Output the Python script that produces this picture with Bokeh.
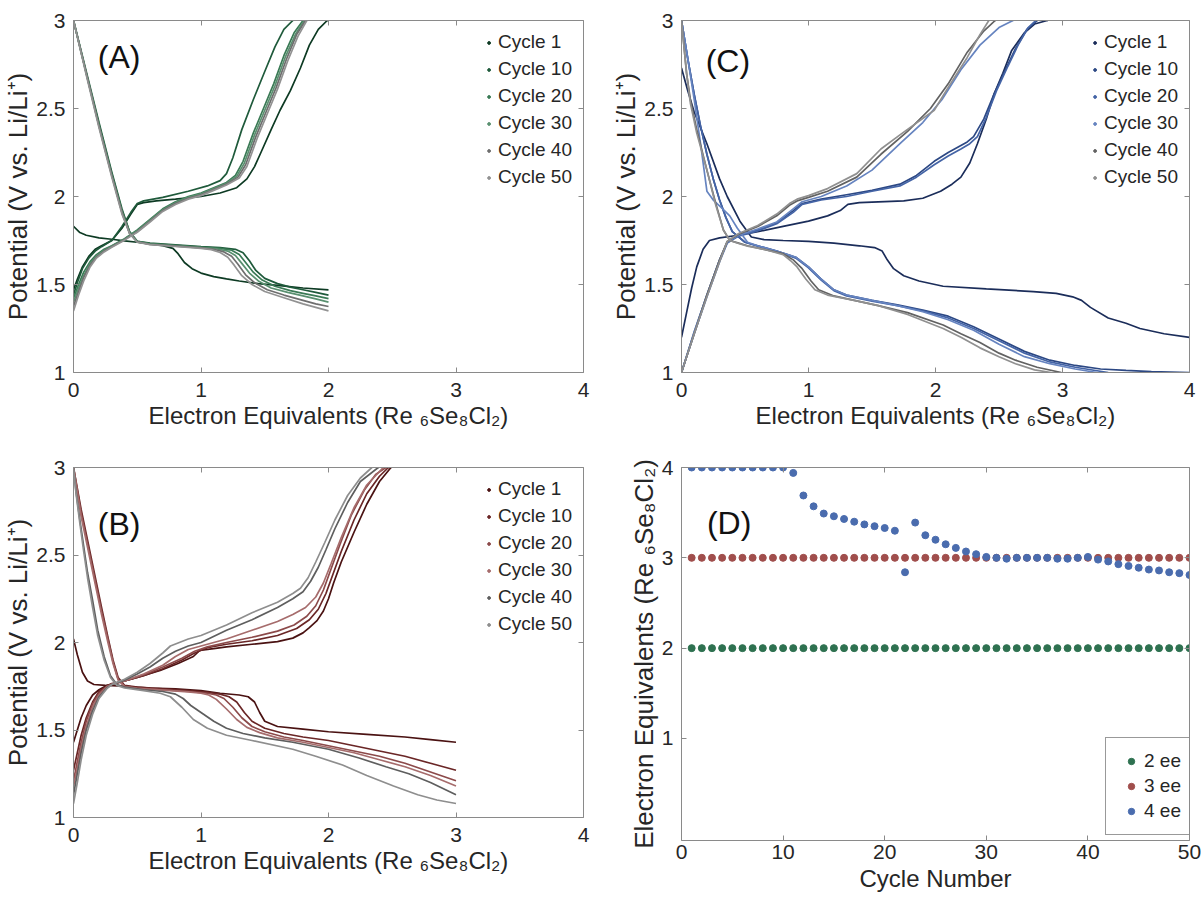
from bokeh.plotting import figure
from bokeh.models import LinearAxis, FixedTicker, Range1d, Legend, LegendItem, Label
from bokeh.layouts import row, column
from bokeh.embed import file_html
from bokeh.resources import INLINE

# ---------------- data ----------------
CYCLE_LABELS = ["Cycle 1", "Cycle 10", "Cycle 20", "Cycle 30", "Cycle 40", "Cycle 50"]

# Panel A (2 ee)
A_DIS_X_1 = [0, 0.05, 0.1, 0.2, 0.3, 0.4, 0.5, 0.6, 0.7, 0.78, 0.82, 0.87, 0.93, 1.0, 1.1, 1.2, 1.3, 1.45, 1.6, 1.8, 2.0]
A_DIS_Y_1 = [1.83, 1.795, 1.78, 1.765, 1.757, 1.748, 1.74, 1.73, 1.72, 1.705, 1.675, 1.625, 1.59, 1.565, 1.545, 1.532, 1.52, 1.505, 1.495, 1.48, 1.47]
A_DIS_X_10 = [0, 0.1, 0.2, 0.3, 0.38, 0.44, 0.5, 0.6, 0.8, 1.0, 1.15, 1.27, 1.33, 1.38, 1.43, 1.5, 1.6, 1.7, 1.8, 1.9, 2.0]
A_DIS_Y_10 = [3.0, 2.71, 2.42, 2.14, 1.93, 1.8, 1.745, 1.735, 1.725, 1.715, 1.71, 1.70, 1.68, 1.635, 1.58, 1.535, 1.505, 1.485, 1.47, 1.455, 1.44]
A_DIS_X_20 = [0, 0.1, 0.2, 0.3, 0.38, 0.44, 0.5, 0.6, 0.8, 1.0, 1.15, 1.24, 1.3, 1.35, 1.41, 1.48, 1.58, 1.7, 1.8, 1.9, 2.0]
A_DIS_Y_20 = [3.0, 2.7, 2.41, 2.13, 1.92, 1.8, 1.745, 1.732, 1.722, 1.712, 1.705, 1.695, 1.67, 1.625, 1.57, 1.525, 1.49, 1.465, 1.45, 1.435, 1.42]
A_DIS_X_30 = [0, 0.1, 0.2, 0.3, 0.38, 0.44, 0.5, 0.6, 0.8, 1.0, 1.12, 1.21, 1.27, 1.32, 1.38, 1.45, 1.55, 1.68, 1.8, 1.9, 2.0]
A_DIS_Y_30 = [3.0, 2.7, 2.4, 2.12, 1.91, 1.79, 1.742, 1.73, 1.72, 1.71, 1.703, 1.69, 1.665, 1.62, 1.565, 1.52, 1.48, 1.455, 1.435, 1.418, 1.40]
A_DIS_X_40 = [0, 0.1, 0.2, 0.3, 0.38, 0.44, 0.5, 0.6, 0.8, 1.0, 1.1, 1.18, 1.24, 1.29, 1.35, 1.42, 1.52, 1.65, 1.8, 1.9, 2.0]
A_DIS_Y_40 = [3.0, 2.7, 2.4, 2.12, 1.91, 1.79, 1.742, 1.728, 1.718, 1.708, 1.7, 1.685, 1.66, 1.615, 1.555, 1.51, 1.47, 1.44, 1.41, 1.39, 1.375]
A_DIS_X_50 = [0, 0.1, 0.2, 0.3, 0.38, 0.44, 0.5, 0.6, 0.8, 1.0, 1.08, 1.15, 1.21, 1.26, 1.32, 1.4, 1.5, 1.65, 1.8, 1.9, 2.0]
A_DIS_Y_50 = [3.0, 2.69, 2.39, 2.11, 1.9, 1.79, 1.74, 1.727, 1.716, 1.705, 1.698, 1.682, 1.655, 1.61, 1.55, 1.5, 1.46, 1.425, 1.39, 1.37, 1.35]

A_CHG_X_1 = [0, 0.03, 0.07, 0.12, 0.17, 0.22, 0.3, 0.38, 0.45, 0.5, 0.55, 0.65, 0.8, 1.0, 1.15, 1.28, 1.36, 1.42, 1.47, 1.55, 1.62, 1.7, 1.78, 1.85, 1.92, 1.99]
A_CHG_Y_1 = [1.47, 1.53, 1.6, 1.66, 1.7, 1.72, 1.75, 1.82, 1.9, 1.955, 1.965, 1.975, 1.985, 2.0, 2.02, 2.05, 2.1, 2.17, 2.25, 2.38, 2.49, 2.6, 2.73, 2.86, 2.95, 3.0]
A_CHG_X_10 = [0, 0.03, 0.07, 0.12, 0.17, 0.22, 0.3, 0.38, 0.45, 0.5, 0.55, 0.7, 0.9, 1.05, 1.15, 1.2, 1.25, 1.32, 1.41, 1.5, 1.58, 1.65, 1.72]
A_CHG_Y_10 = [1.44, 1.51, 1.59, 1.65, 1.69, 1.715, 1.75, 1.83, 1.91, 1.96, 1.975, 1.995, 2.03, 2.06, 2.09, 2.13, 2.22, 2.38, 2.55, 2.71, 2.85, 2.95, 3.0]
A_CHG_X_20 = [0, 0.04, 0.08, 0.13, 0.18, 0.24, 0.3, 0.4, 0.5, 0.6, 0.7, 0.8, 0.9, 1.0, 1.1, 1.2, 1.27, 1.33, 1.41, 1.49, 1.57, 1.65, 1.73, 1.8]
A_CHG_Y_20 = [1.42, 1.5, 1.57, 1.63, 1.67, 1.7, 1.72, 1.76, 1.81, 1.87, 1.93, 1.97, 2.0, 2.02, 2.05, 2.08, 2.12, 2.2, 2.36, 2.5, 2.64, 2.8, 2.93, 3.0]
A_CHG_X_30 = [0, 0.04, 0.08, 0.13, 0.18, 0.24, 0.3, 0.4, 0.5, 0.6, 0.7, 0.8, 0.9, 1.0, 1.1, 1.2, 1.28, 1.34, 1.42, 1.5, 1.58, 1.66, 1.74, 1.81]
A_CHG_Y_30 = [1.40, 1.48, 1.55, 1.62, 1.66, 1.695, 1.717, 1.757, 1.805, 1.865, 1.925, 1.965, 1.995, 2.015, 2.045, 2.075, 2.115, 2.19, 2.35, 2.49, 2.63, 2.79, 2.92, 3.0]
A_CHG_X_40 = [0, 0.04, 0.08, 0.13, 0.18, 0.24, 0.3, 0.4, 0.5, 0.6, 0.7, 0.8, 0.9, 1.0, 1.1, 1.2, 1.29, 1.35, 1.43, 1.51, 1.59, 1.67, 1.75, 1.82]
A_CHG_Y_40 = [1.375, 1.46, 1.54, 1.61, 1.655, 1.69, 1.715, 1.755, 1.8, 1.86, 1.92, 1.96, 1.99, 2.01, 2.04, 2.07, 2.11, 2.18, 2.34, 2.48, 2.62, 2.78, 2.92, 3.0]
A_CHG_X_50 = [0, 0.04, 0.08, 0.13, 0.18, 0.24, 0.3, 0.4, 0.5, 0.6, 0.7, 0.8, 0.9, 1.0, 1.1, 1.2, 1.3, 1.36, 1.44, 1.52, 1.6, 1.68, 1.76, 1.83]
A_CHG_Y_50 = [1.35, 1.44, 1.52, 1.6, 1.65, 1.685, 1.712, 1.752, 1.797, 1.855, 1.915, 1.955, 1.985, 2.005, 2.035, 2.065, 2.105, 2.17, 2.33, 2.47, 2.61, 2.77, 2.91, 3.0]

# Panel B (3 ee)
B_DIS_X_1 = [0, 0.03, 0.07, 0.11, 0.16, 0.25, 0.4, 0.6, 0.8, 1.0, 1.15, 1.3, 1.37, 1.42, 1.46, 1.5, 1.6, 1.8, 2.0, 2.3, 2.6, 2.8, 3.0]
B_DIS_Y_1 = [2.02, 1.93, 1.83, 1.78, 1.76, 1.755, 1.75, 1.74, 1.735, 1.725, 1.71, 1.7, 1.69, 1.66, 1.6, 1.55, 1.52, 1.505, 1.49, 1.475, 1.46, 1.445, 1.43]
B_DIS_X_10 = [0, 0.03, 0.06, 0.1, 0.14, 0.18, 0.22, 0.27, 0.31, 0.35, 0.4, 0.5, 0.7, 0.9, 1.05, 1.15, 1.22, 1.28, 1.34, 1.4, 1.5, 1.65, 1.8, 2.0, 2.2, 2.4, 2.6, 2.8, 3.0]
B_DIS_Y_10 = [3.0, 2.88, 2.76, 2.62, 2.48, 2.34, 2.2, 2.03, 1.9, 1.8, 1.755, 1.745, 1.735, 1.725, 1.715, 1.705, 1.69, 1.66, 1.6, 1.55, 1.51, 1.48, 1.46, 1.44, 1.41, 1.38, 1.35, 1.31, 1.27]
B_DIS_X_20 = [0, 0.03, 0.06, 0.1, 0.14, 0.18, 0.22, 0.27, 0.31, 0.35, 0.4, 0.5, 0.7, 0.9, 1.05, 1.12, 1.18, 1.25, 1.32, 1.4, 1.5, 1.65, 1.8, 2.0, 2.2, 2.4, 2.6, 2.8, 3.0]
B_DIS_Y_20 = [3.0, 2.87, 2.74, 2.6, 2.46, 2.32, 2.18, 2.02, 1.89, 1.79, 1.75, 1.74, 1.73, 1.72, 1.71, 1.7, 1.68, 1.63, 1.57, 1.52, 1.49, 1.46, 1.44, 1.41, 1.38, 1.35, 1.31, 1.26, 1.21]
B_DIS_X_30 = [0, 0.03, 0.06, 0.1, 0.14, 0.18, 0.22, 0.27, 0.31, 0.35, 0.4, 0.5, 0.7, 0.9, 1.0, 1.06, 1.12, 1.2, 1.28, 1.36, 1.46, 1.6, 1.8, 2.0, 2.2, 2.4, 2.6, 2.8, 3.0]
B_DIS_Y_30 = [3.0, 2.86, 2.72, 2.58, 2.44, 2.3, 2.16, 2.0, 1.88, 1.785, 1.748, 1.738, 1.728, 1.718, 1.71, 1.7, 1.675, 1.62, 1.56, 1.515, 1.485, 1.455, 1.43, 1.4, 1.37, 1.33, 1.29, 1.24, 1.18]
B_DIS_X_40 = [0, 0.02, 0.05, 0.08, 0.11, 0.15, 0.19, 0.24, 0.29, 0.34, 0.4, 0.55, 0.7, 0.8, 0.86, 0.92, 1.0, 1.1, 1.2, 1.33, 1.5, 1.72, 2.0, 2.24, 2.45, 2.63, 2.8, 3.0]
B_DIS_Y_40 = [3.0, 2.86, 2.7, 2.55, 2.4, 2.24, 2.07, 1.92, 1.81, 1.76, 1.745, 1.73, 1.72, 1.705, 1.68, 1.64, 1.6, 1.55, 1.51, 1.48, 1.455, 1.43, 1.39, 1.34, 1.29, 1.25, 1.2, 1.13]
B_DIS_X_50 = [0, 0.02, 0.05, 0.08, 0.11, 0.15, 0.19, 0.24, 0.29, 0.34, 0.4, 0.55, 0.68, 0.76, 0.85, 0.94, 1.05, 1.2, 1.4, 1.72, 1.9, 2.11, 2.3, 2.51, 2.7, 2.85, 3.0]
B_DIS_Y_50 = [3.0, 2.85, 2.68, 2.52, 2.37, 2.2, 2.04, 1.9, 1.8, 1.755, 1.74, 1.725, 1.71, 1.69, 1.63, 1.56, 1.51, 1.47, 1.44, 1.39, 1.35, 1.3, 1.24, 1.18, 1.13, 1.1, 1.08]

B_CHG_X_1 = [0, 0.03, 0.06, 0.1, 0.15, 0.2, 0.26, 0.35, 0.5, 0.68, 0.82, 0.94, 0.99, 1.1, 1.2, 1.4, 1.6, 1.72, 1.8, 1.85, 1.91, 1.96, 2.0, 2.04, 2.1, 2.2, 2.3, 2.4, 2.49]
B_CHG_Y_1 = [1.43, 1.5, 1.57, 1.64, 1.7, 1.73, 1.755, 1.77, 1.8, 1.84, 1.88, 1.92, 1.955, 1.965, 1.975, 1.99, 2.005, 2.025, 2.055, 2.085, 2.125, 2.18, 2.25, 2.34, 2.46, 2.63, 2.79, 2.92, 3.0]
B_CHG_X_10 = [0, 0.03, 0.06, 0.1, 0.15, 0.2, 0.26, 0.3, 0.4, 0.55, 0.7, 0.85, 0.95, 1.05, 1.2, 1.4, 1.6, 1.75, 1.85, 1.92, 1.98, 2.04, 2.1, 2.2, 2.3, 2.4, 2.47]
B_CHG_Y_10 = [1.27, 1.37, 1.47, 1.57, 1.66, 1.72, 1.75, 1.765, 1.78, 1.81, 1.85, 1.9, 1.94, 1.97, 1.99, 2.01, 2.04, 2.08, 2.13, 2.19, 2.28, 2.4, 2.52, 2.7, 2.85, 2.95, 3.0]
B_CHG_X_20 = [0, 0.03, 0.06, 0.1, 0.15, 0.2, 0.26, 0.3, 0.4, 0.55, 0.7, 0.85, 0.95, 1.05, 1.2, 1.4, 1.6, 1.73, 1.83, 1.9, 1.96, 2.02, 2.09, 2.18, 2.28, 2.37, 2.45]
B_CHG_Y_20 = [1.21, 1.32, 1.43, 1.55, 1.65, 1.71, 1.748, 1.763, 1.78, 1.815, 1.86, 1.91, 1.95, 1.975, 2.0, 2.03, 2.065, 2.1, 2.15, 2.21, 2.3, 2.42, 2.56, 2.73, 2.87, 2.96, 3.0]
B_CHG_X_30 = [0, 0.03, 0.06, 0.1, 0.15, 0.2, 0.26, 0.3, 0.4, 0.55, 0.7, 0.8, 0.9, 1.0, 1.2, 1.4, 1.6, 1.72, 1.82, 1.9, 1.96, 2.02, 2.1, 2.2, 2.3, 2.43]
B_CHG_Y_30 = [1.18, 1.28, 1.4, 1.52, 1.63, 1.7, 1.745, 1.76, 1.78, 1.82, 1.87, 1.92, 1.96, 1.98, 2.02, 2.07, 2.12, 2.16, 2.2, 2.26, 2.34, 2.45, 2.6, 2.77, 2.9, 3.0]
B_CHG_X_40 = [0, 0.03, 0.06, 0.1, 0.15, 0.2, 0.26, 0.3, 0.4, 0.5, 0.6, 0.7, 0.8, 0.9, 1.0, 1.2, 1.4, 1.6, 1.72, 1.8, 1.86, 1.92, 1.98, 2.05, 2.15, 2.25, 2.39]
B_CHG_Y_40 = [1.13, 1.25, 1.37, 1.5, 1.61, 1.69, 1.74, 1.76, 1.785, 1.82, 1.86, 1.91, 1.95, 1.98, 2.0, 2.07, 2.13, 2.2, 2.25, 2.29, 2.35, 2.43, 2.53, 2.65, 2.8, 2.92, 3.0]
B_CHG_X_50 = [0, 0.03, 0.06, 0.1, 0.15, 0.2, 0.26, 0.3, 0.4, 0.5, 0.6, 0.7, 0.76, 0.9, 1.0, 1.2, 1.4, 1.6, 1.72, 1.78, 1.84, 1.9, 1.97, 2.05, 2.15, 2.25, 2.34]
B_CHG_Y_50 = [1.08, 1.2, 1.33, 1.47, 1.59, 1.68, 1.735, 1.76, 1.79, 1.83, 1.88, 1.94, 1.98, 2.02, 2.04, 2.1, 2.17, 2.23, 2.28, 2.31, 2.37, 2.46, 2.57, 2.7, 2.84, 2.94, 3.0]

# Panel C (4 ee)
C_DIS_X_1 = [0, 0.05, 0.1, 0.2, 0.3, 0.36, 0.46, 0.55, 0.65, 0.8, 1.0, 1.2, 1.4, 1.52, 1.58, 1.62, 1.67, 1.75, 1.87, 2.06, 2.4, 2.77, 2.95, 3.08, 3.15, 3.22, 3.36, 3.5, 3.61, 3.8, 4.0]
C_DIS_Y_1 = [2.73, 2.6, 2.48, 2.3, 2.1, 2.0, 1.86, 1.77, 1.755, 1.75, 1.745, 1.735, 1.72, 1.71, 1.69, 1.64, 1.59, 1.55, 1.52, 1.49, 1.475, 1.46, 1.45, 1.43, 1.41, 1.37, 1.31, 1.28, 1.25, 1.22, 1.2]
C_DIS_X_10 = [0, 0.05, 0.1, 0.15, 0.2, 0.25, 0.3, 0.35, 0.4, 0.5, 0.6, 0.75, 0.9, 1.0, 1.1, 1.2, 1.3, 1.5, 1.7, 1.9, 2.1, 2.3, 2.5, 2.7, 2.9, 3.1, 3.3, 3.5, 3.7, 4.0]
C_DIS_Y_10 = [3.0, 2.78, 2.58, 2.4, 2.24, 2.1, 1.98, 1.88, 1.8, 1.74, 1.72, 1.69, 1.655, 1.6, 1.53, 1.47, 1.44, 1.41, 1.385, 1.355, 1.32, 1.26, 1.19, 1.12, 1.07, 1.04, 1.02, 1.012, 1.005, 1.0]
C_DIS_X_20 = [0, 0.05, 0.1, 0.15, 0.2, 0.25, 0.3, 0.35, 0.4, 0.5, 0.6, 0.75, 0.9, 1.0, 1.1, 1.2, 1.3, 1.5, 1.7, 1.9, 2.1, 2.3, 2.5, 2.7, 2.9, 3.1, 3.36]
C_DIS_Y_20 = [3.0, 2.78, 2.58, 2.4, 2.24, 2.1, 1.98, 1.88, 1.8, 1.74, 1.718, 1.688, 1.65, 1.595, 1.525, 1.465, 1.435, 1.405, 1.38, 1.35, 1.31, 1.25, 1.18, 1.11, 1.06, 1.03, 1.0]
C_DIS_X_30 = [0, 0.05, 0.1, 0.15, 0.2, 0.25, 0.31, 0.38, 0.44, 0.52, 0.6, 0.75, 0.9, 1.0, 1.1, 1.2, 1.3, 1.5, 1.7, 1.9, 2.1, 2.3, 2.5, 2.7, 2.9, 3.1, 3.27]
C_DIS_Y_30 = [3.0, 2.78, 2.55, 2.3, 2.03, 1.98, 1.94, 1.89, 1.82, 1.74, 1.72, 1.69, 1.655, 1.6, 1.53, 1.47, 1.44, 1.41, 1.38, 1.345, 1.3, 1.24, 1.16, 1.09, 1.05, 1.02, 1.0]
C_DIS_X_40 = [0, 0.04, 0.07, 0.12, 0.2, 0.27, 0.33, 0.38, 0.45, 0.52, 0.65, 0.8, 0.88, 0.95, 1.02, 1.08, 1.2, 1.36, 1.55, 1.78, 2.06, 2.2, 2.35, 2.5, 2.63, 2.8, 2.99]
C_DIS_Y_40 = [3.0, 2.7, 2.55, 2.38, 2.15, 1.96, 1.81, 1.75, 1.735, 1.72, 1.7, 1.675, 1.64, 1.59, 1.52, 1.47, 1.435, 1.41, 1.38, 1.34, 1.27, 1.22, 1.17, 1.11, 1.07, 1.03, 1.0]
C_DIS_X_50 = [0, 0.04, 0.07, 0.12, 0.2, 0.27, 0.33, 0.38, 0.45, 0.52, 0.65, 0.8, 0.86, 0.91, 0.98, 1.05, 1.15, 1.36, 1.55, 1.78, 2.06, 2.2, 2.35, 2.5, 2.63, 2.78, 2.91]
C_DIS_Y_50 = [3.0, 2.7, 2.53, 2.36, 2.15, 1.95, 1.81, 1.75, 1.733, 1.718, 1.7, 1.67, 1.635, 1.6, 1.53, 1.47, 1.44, 1.41, 1.38, 1.33, 1.25, 1.2, 1.14, 1.09, 1.05, 1.015, 1.0]

C_CHG_X_1 = [0, 0.04, 0.08, 0.12, 0.17, 0.22, 0.3, 0.45, 0.6, 0.8, 1.0, 1.15, 1.25, 1.31, 1.4, 1.55, 1.75, 1.9, 2.04, 2.13, 2.2, 2.27, 2.33, 2.4, 2.46, 2.53, 2.6, 2.7, 2.78, 2.88]
C_CHG_Y_1 = [1.2, 1.34, 1.48, 1.6, 1.7, 1.75, 1.765, 1.78, 1.8, 1.83, 1.86, 1.89, 1.92, 1.955, 1.965, 1.97, 1.975, 1.99, 2.03, 2.07, 2.11, 2.19, 2.3, 2.44, 2.58, 2.7, 2.83, 2.93, 2.98, 3.0]
C_CHG_X_10 = [0, 0.1, 0.2, 0.3, 0.36, 0.45, 0.6, 0.75, 0.88, 0.95, 1.1, 1.3, 1.5, 1.72, 1.85, 1.99, 2.1, 2.2, 2.25, 2.3, 2.38, 2.46, 2.55, 2.63, 2.72, 2.8]
C_CHG_Y_10 = [1.0, 1.23, 1.44, 1.64, 1.74, 1.78, 1.81, 1.85, 1.92, 1.96, 1.985, 2.01, 2.035, 2.07, 2.12, 2.2, 2.25, 2.29, 2.31, 2.34, 2.44, 2.58, 2.72, 2.84, 2.95, 3.0]
C_CHG_X_20 = [0, 0.1, 0.2, 0.3, 0.36, 0.45, 0.6, 0.75, 0.88, 0.95, 1.1, 1.3, 1.5, 1.72, 1.85, 1.99, 2.1, 2.2, 2.27, 2.33, 2.4, 2.48, 2.57, 2.65, 2.73, 2.79]
C_CHG_Y_20 = [1.0, 1.22, 1.43, 1.63, 1.735, 1.775, 1.805, 1.845, 1.91, 1.955, 1.98, 2.0, 2.03, 2.06, 2.11, 2.18, 2.23, 2.27, 2.3, 2.34, 2.45, 2.6, 2.74, 2.86, 2.96, 3.0]
C_CHG_X_30 = [0, 0.1, 0.2, 0.3, 0.36, 0.45, 0.6, 0.75, 0.88, 0.95, 1.1, 1.3, 1.5, 1.72, 1.9, 2.05, 2.2, 2.35, 2.5, 2.61]
C_CHG_Y_30 = [1.0, 1.23, 1.44, 1.64, 1.74, 1.78, 1.815, 1.855, 1.93, 1.97, 2.0, 2.06, 2.15, 2.3, 2.42, 2.55, 2.72, 2.86, 2.96, 3.0]
C_CHG_X_40 = [0, 0.1, 0.2, 0.3, 0.36, 0.45, 0.6, 0.75, 0.85, 0.91, 1.0, 1.15, 1.38, 1.57, 1.78, 1.96, 2.1, 2.25, 2.38, 2.47]
C_CHG_Y_40 = [1.0, 1.22, 1.44, 1.64, 1.745, 1.785, 1.83, 1.89, 1.95, 1.975, 1.995, 2.03, 2.11, 2.24, 2.37, 2.5, 2.64, 2.82, 2.94, 3.0]
C_CHG_X_50 = [0, 0.1, 0.2, 0.3, 0.36, 0.45, 0.6, 0.75, 0.85, 0.91, 1.0, 1.15, 1.38, 1.57, 1.72, 1.99, 2.1, 2.25, 2.35, 2.42]
C_CHG_Y_50 = [1.0, 1.22, 1.43, 1.63, 1.745, 1.79, 1.835, 1.9, 1.96, 1.985, 2.005, 2.045, 2.13, 2.27, 2.35, 2.49, 2.62, 2.79, 2.92, 3.0]

# Panel D (capacity vs cycle)
D_CYCLE = [1, 2, 3, 4, 5, 6, 7, 8, 9, 10, 11, 12, 13, 14, 15, 16, 17, 18, 19, 20,
           21, 22, 23, 24, 25, 26, 27, 28, 29, 30, 31, 32, 33, 34, 35, 36, 37, 38, 39, 40,
           41, 42, 43, 44, 45, 46, 47, 48, 49, 50]
D_2EE = [2.0, 2.0, 2.0, 2.0, 2.0, 2.0, 2.0, 2.0, 2.0, 2.0, 2.0, 2.0, 2.0, 2.0, 2.0, 2.0, 2.0, 2.0, 2.0, 2.0,
         2.0, 2.0, 2.0, 2.0, 2.0, 2.0, 2.0, 2.0, 2.0, 2.0, 2.0, 2.0, 2.0, 2.0, 2.0, 2.0, 2.0, 2.0, 2.0, 2.0,
         2.0, 2.0, 2.0, 2.0, 2.0, 2.0, 2.0, 2.0, 2.0, 2.0]
D_3EE = [3.0, 3.0, 3.0, 3.0, 3.0, 3.0, 3.0, 3.0, 3.0, 3.0, 3.0, 3.0, 3.0, 3.0, 3.0, 3.0, 3.0, 3.0, 3.0, 3.0,
         3.0, 3.0, 3.0, 3.0, 3.0, 3.0, 3.0, 3.0, 3.0, 3.0, 3.0, 3.0, 3.0, 3.0, 3.0, 3.0, 3.0, 3.0, 3.0, 3.0,
         3.0, 3.0, 3.0, 3.0, 3.0, 3.0, 3.0, 3.0, 3.0, 3.0]
D_4EE = [4.0, 4.0, 4.0, 4.0, 4.0, 4.0, 4.0, 4.0, 4.0, 4.0, 3.94, 3.69, 3.57, 3.49, 3.46, 3.43, 3.40, 3.37, 3.35, 3.33,
         3.30, 2.84, 3.39, 3.25, 3.20, 3.15, 3.11, 3.07, 3.04, 3.01, 3.0, 2.99, 3.0, 3.0, 3.0, 3.0, 2.99, 2.99, 3.0, 3.01,
         2.98, 2.96, 2.93, 2.91, 2.89, 2.87, 2.86, 2.84, 2.83, 2.81]
D_LABELS = ["2 ee", "3 ee", "4 ee"]

A_COLORS = ["#0d3a23", "#1f5a3b", "#3a7a55", "#5a9070", "#6e6e6e", "#929292"]
B_COLORS = ["#4a1212", "#6a2626", "#8c4a4a", "#a66c6c", "#5e5e5e", "#8e8e8e"]
C_COLORS = ["#1b2d5a", "#2c4884", "#4464a6", "#6684c0", "#626262", "#909090"]
D_COLORS = ["#2e7150", "#a04e4c", "#4a6cae"]

# ---------------- styling ----------------
FONT = "'Liberation Sans', Arial, sans-serif"
AX = "#8a8a8a"
TXT = "#262626"
XLAB = "Electron Equivalents (Re \u2086Se\u2088Cl\u2082)"
YLAB = "Potential (V vs. Li/Li\u207a)"


def style_axis(ax, ticks, labels, standoff, font_px):
    ax.ticker = FixedTicker(ticks=ticks)
    ax.major_label_overrides = {t: l for t, l in zip(ticks, labels)}
    ax.major_tick_in = 5
    ax.major_tick_out = 0
    ax.minor_tick_line_color = None
    ax.axis_line_color = AX
    ax.major_tick_line_color = AX
    ax.major_label_text_font = FONT
    ax.major_label_text_font_size = font_px
    ax.major_label_text_color = TXT
    ax.major_label_standoff = standoff


def make_panel(xr, yr, xt, xl, yt, yl, borders, w, h, xlabel, ylabel, xstand, xlabstand, ylab_px):
    p = figure(width=w, height=h, x_range=Range1d(*xr), y_range=Range1d(*yr),
               output_backend="svg", toolbar_location=None,
               min_border_left=borders[0], min_border_right=borders[1],
               min_border_top=borders[2], min_border_bottom=borders[3])
    p.outline_line_color = None
    p.xgrid.visible = False
    p.ygrid.visible = False
    xa = p.xaxis[0]
    ya = p.yaxis[0]
    style_axis(xa, xt, xl, xstand, "21px")
    style_axis(ya, yt, yl, 8, "21px")
    xa.axis_label = xlabel
    xa.axis_label_text_font = FONT
    xa.axis_label_text_font_size = "24px"
    xa.axis_label_text_font_style = "normal"
    xa.axis_label_text_color = TXT
    xa.axis_label_standoff = xlabstand
    ya.axis_label = ylabel
    ya.axis_label_text_font = FONT
    ya.axis_label_text_font_size = ylab_px
    ya.axis_label_text_font_style = "normal"
    ya.axis_label_text_color = TXT
    ya.axis_label_standoff = 0
    for loc, ticks in (("above", xt), ("right", yt)):
        ax = LinearAxis()
        style_axis(ax, ticks, ["" for _ in ticks], 0, "0px")
        p.add_layout(ax, loc)
    return p


def add_cycles(p, curves, colors, letter, lx, ly):
    items = []
    for (dx, dy, cx, cy), col, lab in zip(curves, colors, CYCLE_LABELS):
        p.line(dx, dy, line_color=col, line_width=1.7)
        p.line(cx, cy, line_color=col, line_width=1.7)
        # legend marker: a 1px dot on the curve's own end point (hidden under the line)
        r = p.scatter(cx[-1:], cy[-1:], size=1, fill_color=col, line_color=col)
        items.append(LegendItem(label=lab, renderers=[r]))
    leg = Legend(items=items, location="top_right", border_line_color=None,
                 background_fill_alpha=0, label_text_font=FONT,
                 label_text_font_size="19px", label_text_color=TXT,
                 glyph_width=7, glyph_height=7, label_standoff=6,
                 spacing=5, padding=4, margin=11, label_height=20)
    p.add_layout(leg)
    p.add_layout(Label(x=lx, y=ly, text=letter, text_font=FONT, text_font_size="32px",
                       text_color="#111111", text_baseline="middle", text_align="left"))


W = 602
H1 = 447
H2 = 450
pot_ticks = [1, 1.5, 2, 2.5, 3]
pot_labels = ["1", "1.5", "2", "2.5", "3"]
ee_ticks = [0, 1, 2, 3, 4]
ee_labels = ["0", "1", "2", "3", "4"]

pA = make_panel((0, 4), (1, 3), ee_ticks, ee_labels, pot_ticks, pot_labels,
                (73, 19, 20, 75), W, H1, XLAB, YLAB, 10, 2, "26px")
add_cycles(pA, [(A_DIS_X_1, A_DIS_Y_1, A_CHG_X_1, A_CHG_Y_1),
                (A_DIS_X_10, A_DIS_Y_10, A_CHG_X_10, A_CHG_Y_10),
                (A_DIS_X_20, A_DIS_Y_20, A_CHG_X_20, A_CHG_Y_20),
                (A_DIS_X_30, A_DIS_Y_30, A_CHG_X_30, A_CHG_Y_30),
                (A_DIS_X_40, A_DIS_Y_40, A_CHG_X_40, A_CHG_Y_40),
                (A_DIS_X_50, A_DIS_Y_50, A_CHG_X_50, A_CHG_Y_50)], A_COLORS, "(A)", 0.19, 2.79)

pC = make_panel((0, 4), (1, 3), ee_ticks, ee_labels, pot_ticks, pot_labels,
                (79, 15, 20, 75), W, H1, XLAB, YLAB, 10, 2, "26px")
add_cycles(pC, [(C_DIS_X_1, C_DIS_Y_1, C_CHG_X_1, C_CHG_Y_1),
                (C_DIS_X_10, C_DIS_Y_10, C_CHG_X_10, C_CHG_Y_10),
                (C_DIS_X_20, C_DIS_Y_20, C_CHG_X_20, C_CHG_Y_20),
                (C_DIS_X_30, C_DIS_Y_30, C_CHG_X_30, C_CHG_Y_30),
                (C_DIS_X_40, C_DIS_Y_40, C_CHG_X_40, C_CHG_Y_40),
                (C_DIS_X_50, C_DIS_Y_50, C_CHG_X_50, C_CHG_Y_50)], C_COLORS, "(C)", 0.19, 2.77)

pB = make_panel((0, 4), (1, 3), ee_ticks, ee_labels, pot_ticks, pot_labels,
                (73, 19, 20, 80), W, H2, XLAB, YLAB, 10, 2, "26px")
add_cycles(pB, [(B_DIS_X_1, B_DIS_Y_1, B_CHG_X_1, B_CHG_Y_1),
                (B_DIS_X_10, B_DIS_Y_10, B_CHG_X_10, B_CHG_Y_10),
                (B_DIS_X_20, B_DIS_Y_20, B_CHG_X_20, B_CHG_Y_20),
                (B_DIS_X_30, B_DIS_Y_30, B_CHG_X_30, B_CHG_Y_30),
                (B_DIS_X_40, B_DIS_Y_40, B_CHG_X_40, B_CHG_Y_40),
                (B_DIS_X_50, B_DIS_Y_50, B_CHG_X_50, B_CHG_Y_50)], B_COLORS, "(B)", 0.19, 2.68)

pD = make_panel((0, 50), (-0.13, 4), [0, 10, 20, 30, 40, 50], ["0", "10", "20", "30", "40", "50"],
                [1, 2, 3, 4], ["1", "2", "3", "4"],
                (79, 15, 20, 57), W, H2, "Cycle Number", XLAB, 4, 3, "26px")
d_items = []
for vals, col, lab in zip([D_2EE, D_3EE, D_4EE], D_COLORS, D_LABELS):
    r = pD.scatter(D_CYCLE, vals, size=7, fill_color=col, line_color=col)
    d_items.append(LegendItem(label=lab, renderers=[r]))
legD = Legend(items=d_items, location=(424, 5), border_line_color="#333333",
              border_line_width=1, background_fill_color="white", background_fill_alpha=1,
              label_text_font=FONT, label_text_font_size="19px", label_text_color=TXT,
              glyph_width=26, glyph_height=16, label_standoff=0, spacing=3,
              padding=12, margin=0, label_height=20)
pD.add_layout(legD)
pD.add_layout(Label(x=2.5, y=3.38, text="(D)", text_font=FONT, text_font_size="32px",
                    text_color="#111111", text_baseline="middle", text_align="left"))

layout = row(column(pA, pB), column(pC, pD))
open("out.html", "w").write(file_html(layout, INLINE))
